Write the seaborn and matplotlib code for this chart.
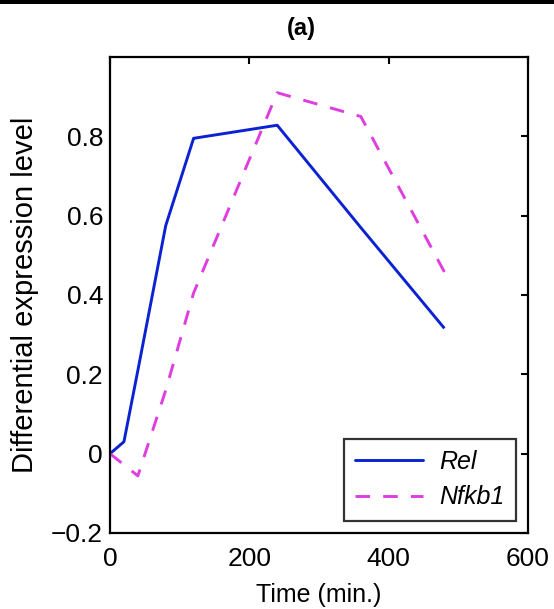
import matplotlib
matplotlib.use("Agg")
import matplotlib.pyplot as plt
import seaborn as sns
import pandas as pd
from matplotlib.patches import Rectangle
from matplotlib.lines import Line2D

# ---- data ----
time_min = [0, 20, 40, 80, 120, 240, 360, 480]
rel = [0.0, 0.03, 0.21, 0.575, 0.795, 0.828, 0.57, 0.316]
nfkb1 = [0.0, -0.028, -0.056, 0.16, 0.405, 0.91, 0.85, 0.458]
series_names = ["Rel", "Nfkb1"]
x_ticks = [0, 200, 400, 600]
y_ticks = [-0.2, 0, 0.2, 0.4, 0.6, 0.8]
y_tick_labels = ["\u22120.2", "0", "0.2", "0.4", "0.6", "0.8"]

BLUE = "#0b22d2"
MAGENTA = "#e03de0"
DASH = (5.0, 4.5)

df = pd.DataFrame({
    "t": time_min * 2,
    "v": rel + nfkb1,
    "gene": [series_names[0]] * len(time_min) + [series_names[1]] * len(time_min),
})

sns.set_style("white")
plt.rcParams["font.family"] = ["Liberation Sans", "DejaVu Sans"]
plt.rcParams["text.color"] = "black"
plt.rcParams["axes.labelcolor"] = "black"
plt.rcParams["xtick.color"] = "black"
plt.rcParams["ytick.color"] = "black"

fig = plt.figure(figsize=(5.54, 6.09), dpi=100)
ax = fig.add_axes([110 / 554, 1 - 533 / 609, (528 - 110) / 554, (533 - 57) / 609])

sns.lineplot(data=df, x="t", y="v", hue="gene", style="gene",
             palette={"Rel": BLUE, "Nfkb1": MAGENTA},
             dashes={"Rel": (1, 0), "Nfkb1": DASH},
             linewidth=2.1, ax=ax, legend=False, sort=False)

ax.set_xlim(0, 600)
ax.set_ylim(-0.2, 1.0)
ax.set_xticks(x_ticks)
ax.set_xticklabels([str(v) for v in x_ticks])
ax.set_yticks(y_ticks)
ax.set_yticklabels(y_tick_labels)
ax.tick_params(direction="in", length=5, width=1.5, top=True, right=True,
               labelsize=19, colors="black")
ax.tick_params(axis="x", pad=10)
ax.tick_params(axis="y", pad=5)
for s in ax.spines.values():
    s.set_visible(True)
    s.set_color("black")
    s.set_linewidth(1.6)
ax.set_xlabel("Time (min.)", fontsize=18)
ax.set_ylabel("Differential expression level", fontsize=21)
ax.yaxis.set_label_coords(-0.17, 0.5)
ax.xaxis.set_label_coords(0.5, -0.105)

# legend
handles = [Line2D([], [], color=BLUE, lw=2.1),
           Line2D([], [], color=MAGENTA, lw=2.1, dashes=DASH)]
leg = ax.legend(handles, series_names, loc="lower right",
                prop={"style": "italic", "size": 18}, frameon=True, fancybox=False,
                edgecolor="black", handlelength=2.7, handletextpad=0.65,
                borderaxespad=0.5, borderpad=0.45, labelspacing=0.45)
leg.get_frame().set_linewidth(1.6)

fig.text(301 / 554, 1 - 28 / 609, "(a)", ha="center", va="center",
         fontsize=17, fontweight="bold")
fig.add_artist(Rectangle((0, 1 - 4 / 609), 1, 4 / 609, transform=fig.transFigure,
                         color="black", lw=0))

fig.savefig("out.png", dpi=100)
